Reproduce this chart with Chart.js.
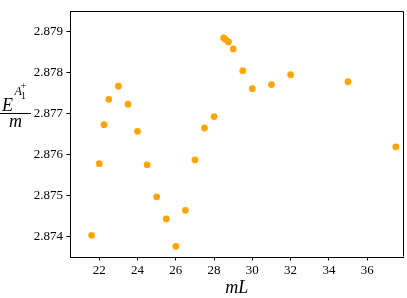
<!DOCTYPE html>
<html>
<head>
<meta charset="utf-8">
<script src="https://cdn.jsdelivr.net/npm/chart.js@4/dist/chart.umd.min.js"></script>
<style>
html,body{margin:0;padding:0;background:#fff;}
#wrap{width:407px;height:298px;}
</style>
</head>
<body>
<div id="wrap"><canvas id="c" width="407" height="298"></canvas></div>
<script>
const xs = [21.6, 22.0, 22.25, 22.5, 23.0, 23.5, 24.0, 24.5, 25.0, 25.5, 26.0, 26.5, 27.0, 27.5, 28.0, 28.5, 28.6, 28.75, 29.0, 29.5, 30.0, 31.0, 32.0, 35.0, 37.5];
const ys = [2.87403, 2.87578, 2.87673, 2.87735, 2.87767, 2.87723, 2.87657, 2.87575, 2.87497, 2.87443, 2.87376, 2.87464, 2.87587, 2.87665, 2.87693, 2.87885, 2.87881, 2.87875, 2.87858, 2.87805, 2.87761, 2.87771, 2.87795, 2.87778, 2.87619];
const xTicks = [22, 24, 26, 28, 30, 32, 34, 36];
const yTicks = [2.874, 2.875, 2.876, 2.877, 2.878, 2.879];
const xLabel = 'mL';

const SERIF = "'Liberation Serif', 'DejaVu Serif', serif";

const boxPlugin = {
  id: 'box',
  afterDraw(chart) {
    const {ctx, chartArea: a} = chart;
    ctx.save();
    ctx.strokeStyle = '#000';
    ctx.lineWidth = 1;
    ctx.beginPath();
    ctx.moveTo(Math.round(a.left) + 0.5, Math.round(a.top) + 0.5);
    ctx.lineTo(Math.round(a.right) - 0.5, Math.round(a.top) + 0.5);
    ctx.lineTo(Math.round(a.right) - 0.5, Math.round(a.bottom) - 0.5);
    ctx.stroke();
    // y label: fraction E^{A_1^+} / m
    ctx.fillStyle = '#000';
    ctx.textBaseline = 'alphabetic';
    ctx.textAlign = 'left';
    ctx.font = "italic 18px " + SERIF;
    ctx.fillText('E', 2, 111);
    ctx.font = "italic 12px " + SERIF;
    ctx.fillText('A', 14.5, 95);
    ctx.font = "10px " + SERIF;
    ctx.fillText('1', 21, 98.5);
    ctx.fillText('+', 20.5, 89);
    ctx.fillRect(0, 113, 31, 1);
    ctx.font = "italic 18px " + SERIF;
    ctx.textAlign = 'center';
    ctx.fillText('m', 15.5, 127);
    ctx.restore();
  }
};

new Chart(document.getElementById('c'), {
  type: 'scatter',
  data: {
    datasets: [{
      data: xs.map((x, i) => ({x: x, y: ys[i]})),
      backgroundColor: '#FFA500',
      borderWidth: 0,
      pointRadius: 3.4,
      pointHoverRadius: 3.4
    }]
  },
  options: {
    responsive: false,
    animation: false,
    events: [],
    layout: {padding: {left: 0, right: 3.5, top: 3.5, bottom: 0}},
    plugins: {legend: {display: false}, tooltip: {enabled: false}},
    scales: {
      x: {
        type: 'linear',
        min: 20.47,
        max: 37.9,
        afterFit(s) { s.height = 41; },
        afterBuildTicks(s) { s.ticks = xTicks.map(v => ({value: v})); },
        grid: {display: true, drawOnChartArea: false, drawTicks: true, tickLength: 3.5, color: '#000', lineWidth: 1},
        border: {display: true, color: '#000', width: 1},
        ticks: {
          color: '#000',
          padding: 2.5,
          maxRotation: 0,
          font: {family: SERIF, size: 13},
          callback: v => String(v)
        },
        title: {
          display: true,
          text: xLabel,
          color: '#000',
          font: {family: SERIF, size: 18, style: 'italic', lineHeight: 1},
          padding: {top: 0, bottom: 1}
        }
      },
      y: {
        type: 'linear',
        min: 2.8735,
        max: 2.8795,
        afterFit(s) { s.width = 70; },
        afterBuildTicks(s) { s.ticks = yTicks.map(v => ({value: v})); },
        grid: {display: true, drawOnChartArea: false, drawTicks: true, tickLength: 3.5, color: '#000', lineWidth: 1},
        border: {display: true, color: '#000', width: 1},
        ticks: {
          color: '#000',
          padding: 3.5,
          font: {family: SERIF, size: 13},
          callback: v => Number(v).toFixed(3)
        }
      }
    }
  },
  plugins: [boxPlugin]
});
</script>
</body>
</html>
